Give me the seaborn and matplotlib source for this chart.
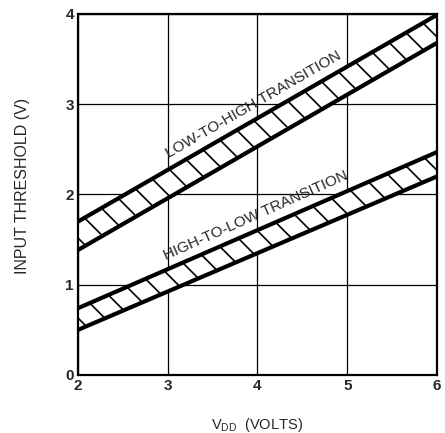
import matplotlib
matplotlib.use("Agg")
import matplotlib.pyplot as plt
import seaborn as sns
import pandas as pd

# Supply voltage range (V)
vdd = [2, 6]
# Low-to-high transition threshold band (V)
lth_upper = [1.70, 3.99]
lth_lower = [1.385, 3.68]
# High-to-low transition threshold band (V)
htl_upper = [0.74, 2.47]
htl_lower = [0.50, 2.20]

x_ticks = [2, 3, 4, 5, 6]
y_ticks = [0, 1, 2, 3, 4]

# Render at 80 dpi so the hatch pitch is tighter; sizes scaled to match
DPI = 80
S = 100 / DPI

sns.set_style("white")
plt.rcParams["font.family"] = ["Liberation Sans", "DejaVu Sans"]
plt.rcParams["hatch.linewidth"] = 1.2 * S

fig = plt.figure(figsize=(445 / DPI, 433 / DPI), dpi=DPI)
ax = fig.add_axes([0.1753, 0.134, 0.8067, 0.8337])

df = pd.DataFrame({"vdd": vdd, "lth_u": lth_upper, "lth_l": lth_lower,
                   "htl_u": htl_upper, "htl_l": htl_lower})

for lo, hi in [("lth_l", "lth_u"), ("htl_l", "htl_u")]:
    ax.fill_between(df["vdd"], df[lo], df[hi], facecolor="white",
                    edgecolor="black", hatch="\\", linewidth=0, zorder=2)
    for col in (lo, hi):
        sns.lineplot(data=df, x="vdd", y=col, ax=ax, color="black",
                     linewidth=3.0 * S, zorder=3, solid_capstyle="butt")

ax.set_xlim(2, 6)
ax.set_ylim(0, 4)
ax.set_xticks(x_ticks)
ax.set_yticks(y_ticks)
ax.set_xticklabels([str(t) for t in x_ticks], fontsize=11 * S, fontweight="bold")
ax.set_yticklabels([str(t) for t in y_ticks], fontsize=11 * S, fontweight="bold")
ax.tick_params(length=0, pad=3 * S)
ax.grid(True, color="black", linewidth=0.9 * S)
ax.set_axisbelow(True)
for s in ax.spines.values():
    s.set_color("black")
    s.set_linewidth(1.6 * S)
    s.set_zorder(4)

ax.set_xlabel(r"V$_{\mathregular{DD}}$  (VOLTS)", fontsize=10.5 * S)
ax.xaxis.set_label_coords(0.5, -0.115)
ax.set_ylabel("INPUT THRESHOLD (V)", fontsize=11.5 * S)
ax.yaxis.set_label_coords(-0.135, 0.525)

ax.text(3.96, 3.0, "LOW-TO-HIGH TRANSITION", rotation=30, fontsize=11 * S,
        ha="center", va="center", rotation_mode="anchor")
ax.text(3.98, 1.77, "HIGH-TO-LOW TRANSITION", rotation=24, fontsize=11 * S,
        ha="center", va="center", rotation_mode="anchor")

fig.savefig("out.png", dpi=DPI)
